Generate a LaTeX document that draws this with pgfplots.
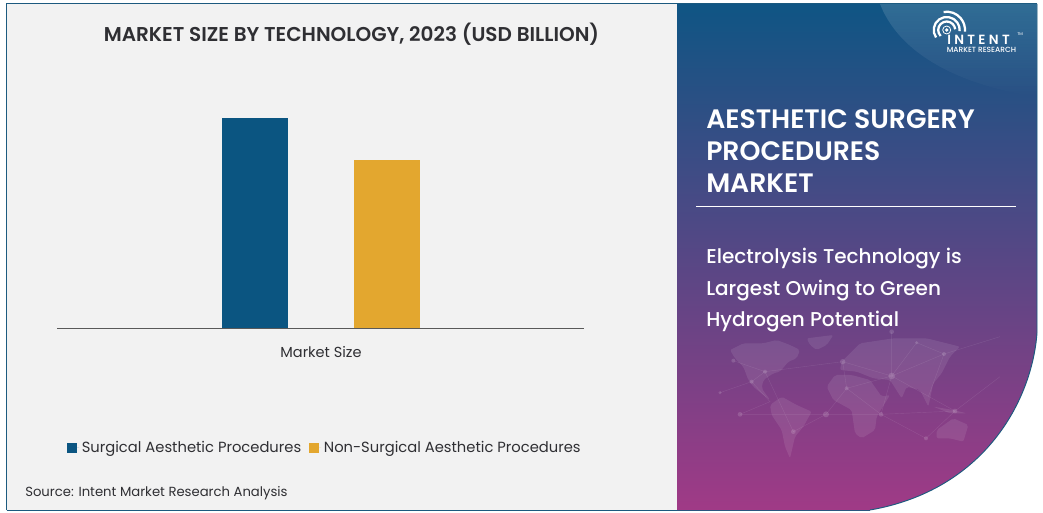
\documentclass[border=0pt]{standalone}
\usepackage{fontspec}
\usepackage{pgfplots}
\usetikzlibrary{fadings}
\pgfplotsset{compat=1.18}
\setmainfont{Poppins}
\newfontfamily\popsemi{Poppins}[UprightFont=* SemiBold]
\newfontfamily\popmed{Poppins}[UprightFont=* Medium]
\definecolor{bluebar}{HTML}{0B5581}
\definecolor{goldbar}{HTML}{E3A72F}
\definecolor{panel}{HTML}{F2F2F2}
\definecolor{edge}{HTML}{1C5A7F}
\definecolor{ink}{HTML}{2F2F33}
\definecolor{gtop}{HTML}{0F5584}
\definecolor{gmid}{HTML}{574785}
\definecolor{gbot}{HTML}{A03A86}
\begin{document}
\begin{tikzpicture}
\begin{scope}[x=0.75pt,y=-0.75pt]
\useasboundingbox (0,0) rectangle (1043,513);
\fill[white] (0,0) rectangle (1043,513);
\fill[panel] (6,3) rectangle (678,510);
\draw[edge,line width=1pt] (6.5,510) -- (6.5,3.5) -- (1037,3.5);
\draw[edge,line width=1pt] (6.5,510.5) -- (870,510.5);
% right panel
\def\panelpath{(677,4) -- (1037,4) -- (1037,333) .. controls (1032,400) and (985,490) .. (870,510) -- (677,510) -- cycle}
\shade[top color=gtop,bottom color=gbot,middle color=gmid] \panelpath;
\draw[edge,line width=.7pt] (1037,4) -- (1037,333) .. controls (1032,400) and (985,490) .. (870,510);
\begin{scope}
\clip \panelpath;
\fill[white,opacity=.14,path fading=south] (880,4) .. controls (900,55) and (960,85) .. (1037,97) -- (1037,4) -- cycle;
\begin{scope}[shift={(720,330)},x=0.25pt,y=-0.25pt]
\begin{scope}[white,opacity=.09,rounded corners=1.5pt]
\fill (30,60) -- (70,40) -- (130,40) -- (170,30) -- (210,45) -- (240,60) -- (230,85) -- (205,95) -- (180,125) -- (160,130) -- (130,150) -- (125,175) -- (150,210) -- (130,195) -- (100,170) -- (85,150) -- (70,110) -- (45,85) -- cycle;
\fill (260,25) -- (340,15) -- (320,45) -- (290,60) -- (270,45) -- cycle;
\fill (150,225) -- (185,200) -- (230,225) -- (275,245) -- (250,290) -- (225,320) -- (210,385) -- (195,350) -- (185,300) -- (155,255) -- cycle;
\fill (320,170) -- (345,135) -- (395,135) -- (450,150) -- (485,200) -- (510,195) -- (470,260) -- (465,300) -- (425,325) -- (405,310) -- (395,240) -- (340,210) -- cycle;
\fill (380,80) -- (420,40) -- (520,25) -- (620,25) -- (720,50) -- (690,80) -- (665,130) -- (640,160) -- (625,230) -- (600,180) -- (560,170) -- (545,205) -- (510,150) -- (460,145) -- (410,125) -- (360,120) -- (365,95) -- cycle;
\fill (650,300) -- (700,265) -- (745,285) -- (730,335) -- (690,325) -- (650,325) -- cycle;
\fill (640,230) -- (700,240) -- (740,250) -- (690,250) -- cycle;
\end{scope}
\draw[white,opacity=.10,line width=.3pt] (0,188) -- (95,155) -- (135,125) -- (368,95) -- (515,138) -- (672,72) -- (840,20) (60,253) -- (150,215) -- (95,155) (60,253) -- (318,253) -- (483,253) -- (705,243) -- (840,140) (220,305) -- (318,253) -- (380,175) -- (515,138) (483,253) -- (380,175) -- (368,95) (515,138) -- (705,243) -- (618,325) -- (483,253) (515,138) -- (590,38) -- (672,72) -- (625,200) (40,92) -- (135,125) -- (220,305) (515,5) -- (515,138) -- (483,253);
\foreach \a/\b/\r in {40/92/6,95/155/6,135/125/6,60/253/7,220/305/7,318/253/9,380/175/6,368/95/8,515/138/10,590/38/5,672/72/6,483/253/7,705/243/7,618/325/6,515/5/7,0/188/5}
  \fill[white,opacity=.14] (\a,\b) circle[radius=\r];
\end{scope}
\end{scope}
% right text
\node[anchor=base west,inner sep=0,white,font=\popsemi\fontsize{20}{24}\selectfont] at (706,129) {AESTHETIC SURGERY};
\node[anchor=base west,inner sep=0,white,font=\popsemi\fontsize{20}{24}\selectfont] at (706,161) {PROCEDURES};
\node[anchor=base west,inner sep=0,white,font=\popsemi\fontsize{20}{24}\selectfont] at (706,193) {MARKET};
\draw[white,line width=.7pt] (696,206.5) -- (1016,206.5);
\node[anchor=base west,inner sep=0,white,font=\popmed\fontsize{15}{20}\selectfont] at (706,264) {Electrolysis Technology is};
\node[anchor=base west,inner sep=0,white,font=\popmed\fontsize{15}{20}\selectfont] at (706,295.5) {Largest Owing to Green};
\node[anchor=base west,inner sep=0,white,font=\popmed\fontsize{15}{20}\selectfont] at (706,327) {Hydrogen Potential};
% logo
\begin{scope}[white,line width=1.7pt]
\draw (946.7,30)+(-100:18.3) arc[start angle=-100,end angle=5,radius=18.3];
\draw (946.7,30)+(-215:13) arc[start angle=-215,end angle=5,radius=13];
\draw (946.7,30)+(-225:8.5) arc[start angle=-225,end angle=-5,radius=8.5];
\draw[line width=.6pt] (946.7,30) circle[radius=4];
\fill (946.7,30) circle[radius=1.8];
\end{scope}
\node[anchor=base west,inner sep=0,white,font=\popsemi\addfontfeature{LetterSpace=25}\fontsize{10}{10}\selectfont] at (947,45) {INTENT};
\node[anchor=base west,inner sep=0,white,font=\popmed\fontsize{5.6}{6}\selectfont] at (946.5,53) {MARKET RESEARCH};
\node[anchor=base west,inner sep=0,white,font=\fontsize{3}{3}\selectfont] at (1017,36) {TM};
% left text
\node[anchor=base,inner sep=0,ink,font=\popsemi\fontsize{15}{18}\selectfont] at (351.5,41.5) {MARKET SIZE BY TECHNOLOGY, 2023 (USD BILLION)};
\node[anchor=base west,inner sep=0,ink,font=\fontsize{9.9}{12}\selectfont] at (25,496) {Source: Intent Market Research Analysis};
\end{scope}
% chart
\begin{axis}[
  at={(42.75pt,-246pt)},anchor=south west,
  scale only axis,
  width=395.25pt,height=187.5pt,
  xmin=-264,xmax=263,ymin=0,ymax=250,
  axis y line=none,axis x line=bottom,
  axis line style={draw=black!65,-,line width=.6pt},
  xtick={0},xticklabels={Market Size},
  major tick length=0pt,
  xticklabel style={font=\fontsize{10.9}{13}\selectfont,text=ink,yshift=-10.5pt},
  ybar,bar width=49.5pt,
  legend columns=2,
  legend cell align=left,
  legend style={at={(0.509,-0.431)},anchor=north,draw=none,fill=none,
    font=\fontsize{11.05}{13}\selectfont,text=ink,
    /tikz/every even column/.append style={column sep=4pt}},
  legend image code/.code={\path (0pt,0pt) -- (9pt,0pt);\fill[#1] (0pt,-3.9pt) rectangle (7.6pt,3.9pt);},
]
\addplot[fill=bluebar,draw=none,bar shift=-49.5pt] coordinates {(0,210)};
\addlegendentry{Surgical Aesthetic Procedures}
\addplot[fill=goldbar,draw=none,bar shift=49.5pt] coordinates {(0,168)};
\addlegendentry{Non-Surgical Aesthetic Procedures}
\end{axis}
\end{tikzpicture}
\end{document}
